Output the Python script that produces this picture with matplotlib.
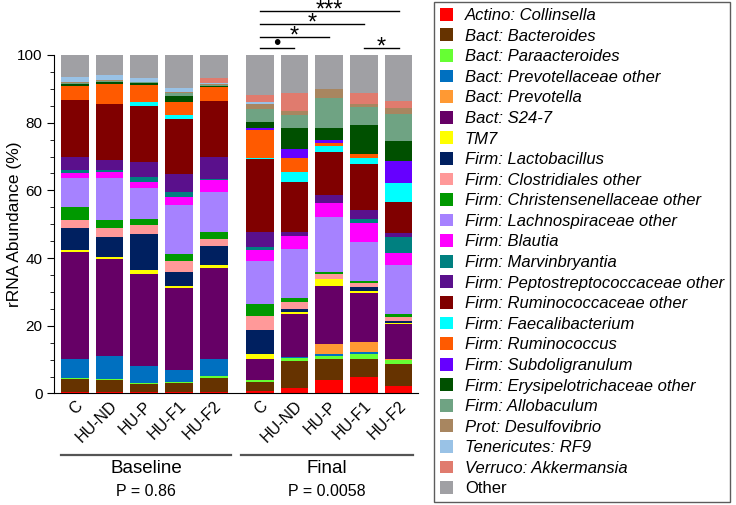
import matplotlib
matplotlib.use('Agg')
import matplotlib.pyplot as plt
from matplotlib.patches import Patch
from matplotlib.ticker import MultipleLocator
from matplotlib.transforms import blended_transform_factory
import numpy as np

plt.rcParams['font.family'] = ['Liberation Sans', 'DejaVu Sans']

# ---------------- taxa, colours ----------------
taxa = ['Actino: Collinsella', 'Bact: Bacteroides', 'Bact: Paraacteroides',
        'Bact: Prevotellaceae other', 'Bact: Prevotella', 'Bact: S24-7', 'TM7',
        'Firm: Lactobacillus', 'Firm: Clostridiales other',
        'Firm: Christensenellaceae other', 'Firm: Lachnospiraceae other',
        'Firm: Blautia', 'Firm: Marvinbryantia',
        'Firm: Peptostreptococcaceae other', 'Firm: Ruminococcaceae other',
        'Firm: Faecalibacterium', 'Firm: Ruminococcus',
        'Firm: Subdoligranulum', 'Firm: Erysipelotrichaceae other',
        'Firm: Allobaculum', 'Prot: Desulfovibrio', 'Tenericutes: RF9',
        'Verruco: Akkermansia', 'Other']
colors = ['#ff0000', '#663300', '#66ff33', '#0070c0', '#ff9933', '#660066',
          '#ffff00', '#002060', '#ff9999', '#009900', '#a682ff', '#ff00ff',
          '#008080', '#5a108c', '#800000', '#00ffff', '#ff5a00', '#6600ff',
          '#005000', '#6fa383', '#a88660', '#99c2e6', '#e07b6e', '#a0a0a4']

groups = ['C', 'HU-ND', 'HU-P', 'HU-F1', 'HU-F2']

# ---------------- values (%), one list per bar, same order as taxa ----
base_c = [0.3, 4.1, 0.3, 5.4, 0.0, 31.8, 0.6, 6.4, 2.5, 3.7, 8.6, 1.4, 0.8,
          4.1, 16.6, 0.0, 4.3, 0.0, 0.4, 0.3, 0.4, 1.4, 0.0, 6.6]
base_hund = [0.3, 3.8, 0.3, 6.7, 0.0, 28.5, 0.6, 5.9, 2.7, 2.4, 12.6, 1.5, 0.7,
             3.0, 16.5, 0.0, 6.0, 0.0, 0.5, 0.2, 0.5, 1.3, 0.0, 6.0]
base_hup = [0.3, 2.5, 0.4, 4.9, 0.0, 27.2, 1.2, 10.5, 2.7, 1.8, 9.1, 2.0, 1.4,
            4.3, 16.7, 1.1, 5.0, 0.0, 0.5, 0.3, 0.2, 1.2, 0.0, 6.7]
base_huf1 = [0.3, 2.7, 0.4, 3.5, 0.0, 24.4, 0.6, 4.1, 3.2, 2.0, 14.4, 2.5, 1.5,
             5.2, 16.2, 1.3, 3.9, 0.0, 1.8, 0.9, 0.2, 1.1, 0.0, 9.8]
base_huf2 = [0.3, 4.3, 0.5, 5.0, 0.0, 27.1, 0.7, 5.7, 2.1, 1.9, 11.8, 3.7, 0.3,
             6.4, 16.7, 0.0, 3.9, 0.0, 0.5, 0.3, 0.2, 0.4, 1.5, 6.7]

final_c = [0.7, 2.7, 0.5, 0.1, 0.0, 6.1, 1.5, 7.1, 4.2, 3.5, 12.7, 3.3, 0.8,
           4.4, 21.6, 0.3, 8.3, 0.5, 1.9, 3.7, 1.6, 0.7, 1.9, 11.9]
final_hund = [1.5, 8.2, 0.9, 0.2, 0.0, 12.6, 0.7, 1.0, 1.8, 1.4, 14.4, 3.9, 0.0,
              1.0, 15.0, 2.7, 4.4, 2.5, 6.3, 3.8, 1.2, 0.0, 5.4, 11.1]
final_hup = [4.1, 6.2, 0.7, 0.6, 3.0, 17.1, 2.1, 0.0, 1.5, 0.7, 16.2, 4.2, 0.0,
             2.2, 12.8, 1.7, 1.0, 0.8, 3.6, 8.7, 2.9, 0.0, 0.0, 9.9]
final_huf1 = [4.9, 5.2, 1.5, 0.7, 3.0, 14.3, 0.6, 1.3, 1.0, 0.7, 11.6, 5.6, 1.2,
              2.6, 13.6, 1.8, 1.1, 0.0, 8.5, 5.3, 1.0, 0.0, 3.2, 11.3]
final_huf2 = [2.2, 6.5, 1.2, 0.1, 0.3, 10.2, 0.4, 0.6, 1.2, 0.7, 14.5, 3.5, 4.7,
              1.2, 9.4, 5.4, 0.0, 6.6, 6.0, 7.8, 1.9, 0.0, 2.1, 13.5]

bars = [base_c, base_hund, base_hup, base_huf1, base_huf2,
        final_c, final_hund, final_hup, final_huf1, final_huf2]
gap = 0.33
xpos = np.array([0, 1, 2, 3, 4, 5 + gap, 6 + gap, 7 + gap, 8 + gap, 9 + gap])

# significance: (from bar, to bar, height, label)
sig = [(5, 9, 113.0, '***'), (5, 8, 109.2, '*'), (5, 7, 105.4, '*'),
       (5, 6, 102.2, '\u2022'), (8, 9, 102.2, '*')]

fig = plt.figure(figsize=(7.36, 5.05), dpi=100)
ax = fig.add_axes([0.0738, 0.2208, 0.4942, 0.6703])

data = np.array(bars)
bottom = np.zeros(len(bars))
for i, t in enumerate(taxa):
    ax.bar(xpos, data[:, i], 0.8, bottom=bottom, color=colors[i],
           edgecolor='none')
    bottom += data[:, i]

ax.set_xlim(-0.59, 9.89)
ax.set_ylim(0, 100)
ax.spines['top'].set_visible(False)
ax.spines['right'].set_visible(False)
ax.yaxis.set_major_locator(MultipleLocator(20))
ax.yaxis.set_minor_locator(MultipleLocator(5))
ax.tick_params(axis='y', which='major', length=5, labelsize=11)
ax.tick_params(axis='y', which='minor', length=3)
ax.tick_params(axis='x', length=0, labelsize=11.5)
ax.set_xticks(xpos)
ax.set_xticklabels(groups * 2, rotation=45, ha='right',
                   rotation_mode='anchor')
ax.set_ylabel('rRNA Abundance (%)', fontsize=12.5)
ax.yaxis.set_label_coords(-0.088, 0.5)

# significance brackets
for a, b, h, lab in sig:
    ax.plot([xpos[a], xpos[b]], [h, h], color='black', lw=1, clip_on=False)
    if lab == '\u2022':
        ax.text((xpos[a] + xpos[b]) / 2, h - 1.6, lab, ha='center',
                va='bottom', fontsize=15, clip_on=False)
    else:
        ax.text((xpos[a] + xpos[b]) / 2, h - 3.2, lab, ha='center',
                va='bottom', fontsize=17, clip_on=False)

# group labels below
tr = blended_transform_factory(ax.transData, fig.transFigure)
for (x0, x1, name, pval) in [(-0.4, 4.5, 'Baseline', 'P = 0.86'),
                             (4.79, 9.75, 'Final', 'P = 0.0058')]:
    fig.add_artist(plt.Line2D([x0, x1], [0.099, 0.099], transform=tr,
                              color='#555555', lw=1.6))
    fig.text((x0 + x1) / 2, 0.073, name, transform=tr, ha='center',
             va='center', fontsize=13.5)
    fig.text((x0 + x1) / 2, 0.026, pval, transform=tr, ha='center',
             va='center', fontsize=11.5)

handles = [Patch(facecolor=c, edgecolor='none') for c in colors]
leg = fig.legend(handles, taxa, loc='upper left',
                 bbox_to_anchor=(434 / 736, 1 - 2 / 505), fontsize=12,
                 frameon=True, fancybox=False, edgecolor='#333333',
                 handlelength=0.8, handleheight=0.8, handletextpad=0.7,
                 labelspacing=0.325, borderpad=0.35, borderaxespad=0)
leg.get_frame().set_linewidth(1)
for txt in leg.get_texts()[:-1]:
    txt.set_fontstyle('italic')

fig.savefig('out.png', dpi=100)
